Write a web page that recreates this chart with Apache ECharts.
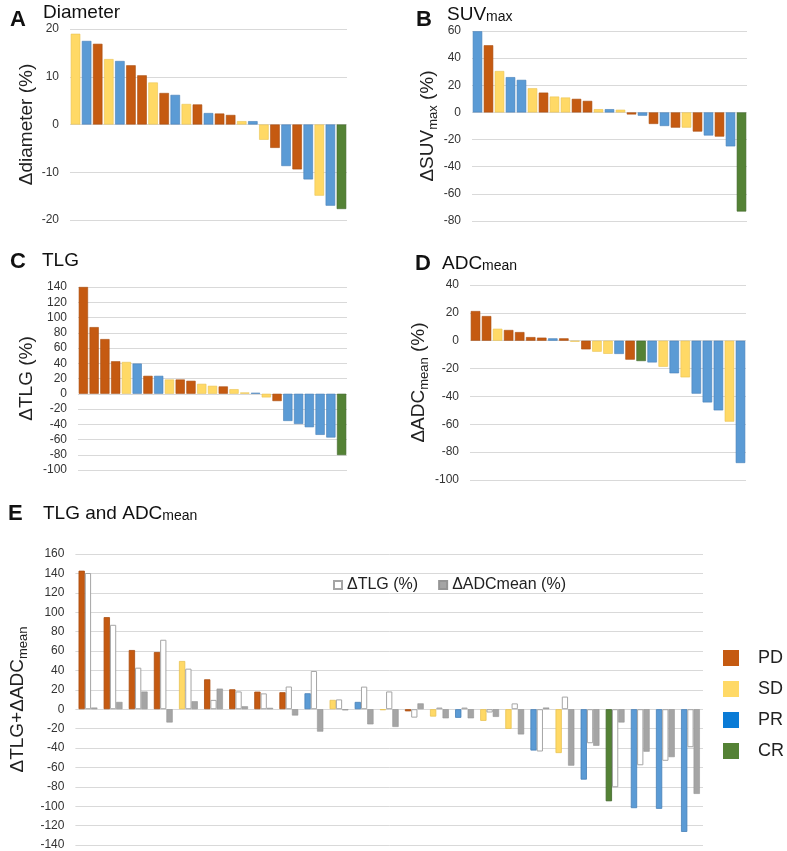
<!DOCTYPE html>
<html lang="en">
<head>
  <meta charset="UTF-8">
  <title>Response waterfall plots</title>
  <script src="https://cdn.jsdelivr.net/npm/echarts/dist/echarts.min.js"></script>
  <style>
    html, body { margin: 0; padding: 0; background: #fff; }
    #chart { width: 787px; height: 851px; }
  </style>
</head>
<body>
  <div id="chart"></div>
<script>
  // A: diameter change (%), sorted
  const diameterValues = [19.0, 17.5, 16.9, 13.7, 13.3, 12.4, 10.3, 8.8, 6.6, 6.2, 4.3, 4.2, 2.4, 2.3, 2.0, 0.7, 0.7, -3.2, -4.9, -8.7, -9.4, -11.5, -14.9, -17.0, -17.7];
  const diameterResp = ['SD','PR','PD','SD','PR','PD','PD','SD','PD','PR','SD','PD','PR','PD','PD','SD','PR','SD','PD','PR','PD','PR','SD','PR','CR'];

  // B: SUVmax change (%)
  const suvValues = [59.8, 49.5, 30.5, 26.0, 24.0, 17.8, 14.6, 11.7, 11.0, 10.0, 8.5, 2.4, 2.4, 2.0, -1.5, -2.4, -8.5, -10.0, -11.2, -11.2, -14.1, -17.0, -17.8, -25.0, -73.0];
  const suvResp = ['PR','PD','SD','PR','PR','SD','PD','SD','SD','PD','PD','SD','PR','SD','PD','PR','PD','PR','PD','SD','PD','PR','PD','PR','CR'];

  // C: TLG change (%)
  const tlgValues = [140.0, 87.4, 71.7, 42.6, 41.7, 39.6, 23.5, 23.5, 18.7, 18.7, 17.0, 13.0, 10.4, 9.6, 6.0, 1.7, 1.3, -4.8, -9.6, -35.7, -39.6, -43.9, -53.9, -57.4, -80.4];
  const tlgResp = ['PD','PD','PD','PD','SD','PR','PD','PR','SD','PD','PD','SD','SD','PD','SD','SD','PR','SD','PD','PR','PR','PR','PR','PR','CR'];

  // D: ADCmean change (%)
  const adcValues = [21.3, 17.7, 8.6, 7.7, 6.2, 2.6, 2.2, 1.7, 1.7, -0.7, -6.2, -7.9, -9.4, -9.5, -13.6, -14.6, -15.6, -18.7, -23.4, -26.3, -38.0, -44.3, -50.0, -58.1, -87.8];
  const adcResp = ['PD','PD','SD','PD','PD','PD','PD','PR','PD','SD','PD','SD','SD','PR','PD','CR','PR','SD','PR','SD','PR','PR','PR','SD','PR'];

  // E: TLG + ADCmean (sum), TLG and ADCmean per patient
  const eResp = ['PD','PD','PD','PD','SD','PD','PD','PD','PD','PR','SD','PR','SD','PD','SD','PR','SD','SD','PR','SD','PR','CR','PR','PR','PR'];
  const eSum = [142.8, 94.9, 61.0, 58.9, 49.7, 30.8, 20.5, 18.1, 17.5, 16.4, 9.6, 7.5, -1.0, -2.2, -7.6, -8.9, -12.0, -20.3, -42.6, -45.2, -72.6, -94.9, -102.0, -102.7, -126.5];
  const eTlg = [140.4, 87.0, 42.8, 71.6, 41.8, 9.6, 18.3, 16.3, 23.4, 39.4, 10.1, 23.3, 18.3, -8.7, 1.7, 1.7, -3.4, 6.0, -43.6, 13.0, -35.1, -80.5, -57.8, -53.2, -39.2];
  const eAdc = [1.7, 7.5, 18.2, -13.7, 8.2, 21.2, 3.0, 1.4, -6.5, -23.1, -1.2, -15.6, -18.3, 6.0, -9.4, -9.4, -7.9, -26.0, 1.7, -58.2, -37.7, -13.7, -43.8, -49.4, -87.3];

  const responses = ['PD', 'SD', 'PR', 'CR'];

  const COLORS = { PD: '#C55A11', SD: '#FFD966', PR: '#5B9BD5', CR: '#548235' };
  const BORDERS = { PD: '#A94D0F', SD: '#E9C352', PR: '#4680B8', CR: '#3E6428' };
  const FONT = 'Liberation Sans, Arial, sans-serif';
  const GRID_LINE = '#D9D9D9';

  const chart = echarts.init(document.getElementById('chart'));

  const grids = [
    { left: 70, top: 29, width: 277, height: 191 },
    { left: 472, top: 31, width: 275, height: 190 },
    { left: 78, top: 287, width: 269, height: 183 },
    { left: 470, top: 285, width: 276, height: 195 },
    { left: 60, top: 554, width: 643, height: 292 }
  ];

  const nameRich = {
    a: { fontSize: 19, color: '#222', lineHeight: 24, verticalAlign: 'middle' },
    s: { fontSize: 13, color: '#222', lineHeight: 13, verticalAlign: 'bottom' }
  };

  function xAx(idx, n) {
    return {
      type: 'category', gridIndex: idx,
      data: Array.from({ length: n }, (_, i) => 'P' + (i + 1)),
      axisLine: { show: false }, axisTick: { show: false }, axisLabel: { show: false }
    };
  }

  function yAx(idx, min, max, name, gap) {
    return {
      type: 'value', gridIndex: idx, min: min, max: max, interval: idx === 0 ? 10 : 20,
      name: name, nameLocation: 'middle', nameRotate: 90, nameGap: gap,
      nameTextStyle: { fontSize: 19, color: '#222', fontFamily: FONT, rich: nameRich },
      axisLine: { show: false }, axisTick: { show: false },
      axisLabel: { fontSize: 12, color: '#333', margin: 11, fontFamily: FONT },
      splitLine: { lineStyle: { color: GRID_LINE, width: 1 } }
    };
  }

  function panelBars(idx, values, resp) {
    return {
      type: 'bar', xAxisIndex: idx, yAxisIndex: idx, barCategoryGap: '14%', silent: true,
      data: values.map((v, i) => ({
        value: v,
        itemStyle: { color: COLORS[resp[i]], borderColor: BORDERS[resp[i]], borderWidth: 0.6 }
      }))
    };
  }

  const titleStyle = (size, bold) => ({ fontSize: size, fontWeight: bold ? 'bold' : 'normal', color: '#111', fontFamily: FONT });
  const titleRich = {
    a: { fontSize: 19, color: '#111', verticalAlign: 'bottom', lineHeight: 22 },
    s: { fontSize: 14, color: '#111', verticalAlign: 'bottom', lineHeight: 19 }
  };

  const series = [
    panelBars(0, diameterValues, diameterResp),
    panelBars(1, suvValues, suvResp),
    panelBars(2, tlgValues, tlgResp),
    panelBars(3, adcValues, adcResp)
  ];

  responses.forEach(r => {
    series.push({
      name: r, type: 'bar', stack: 'resp', xAxisIndex: 4, yAxisIndex: 4,
      barGap: '0%', barCategoryGap: '25%', silent: true,
      itemStyle: { color: COLORS[r], borderColor: BORDERS[r], borderWidth: 0.8 },
      data: eSum.map((v, i) => (eResp[i] === r ? v : null))
    });
  });
  series.push({
    name: 'ΔTLG (%)', type: 'bar', xAxisIndex: 4, yAxisIndex: 4,
    barGap: '0%', barCategoryGap: '25%', silent: true,
    itemStyle: { color: '#FFFFFF', borderColor: '#A5A5A5', borderWidth: 1 },
    data: eTlg
  });
  series.push({
    name: 'ΔADCmean (%)', type: 'bar', xAxisIndex: 4, yAxisIndex: 4,
    barGap: '0%', barCategoryGap: '25%', silent: true,
    itemStyle: { color: '#A5A5A5', borderColor: '#959595', borderWidth: 0.6 },
    data: eAdc
  });

  const option = {
    animation: false,
    textStyle: { fontFamily: FONT },
    title: [
      { text: 'A', left: 10, top: 9, padding: 0, textStyle: titleStyle(22, true) },
      { text: 'Diameter', left: 43, top: 3, padding: 0, textStyle: titleStyle(19, false) },
      { text: 'B', left: 416, top: 9, padding: 0, textStyle: titleStyle(22, true) },
      { text: '{a|SUV}{s|max}', left: 447, top: 2, padding: 0, textStyle: Object.assign(titleStyle(19, false), { rich: titleRich }) },
      { text: 'C', left: 10, top: 251, padding: 0, textStyle: titleStyle(22, true) },
      { text: 'TLG', left: 42, top: 251, padding: 0, textStyle: titleStyle(19, false) },
      { text: 'D', left: 415, top: 253, padding: 0, textStyle: titleStyle(22, true) },
      { text: '{a|ADC}{s|mean}', left: 442, top: 251, padding: 0, textStyle: Object.assign(titleStyle(19, false), { rich: titleRich }) },
      { text: 'E', left: 8, top: 503, padding: 0, textStyle: titleStyle(22, true) },
      { text: '{a|TLG and ADC}{s|mean}', left: 43, top: 501, padding: 0, textStyle: Object.assign(titleStyle(19, false), { rich: titleRich }) }
    ],
    legend: [
      {
        data: ['ΔTLG (%)', 'ΔADCmean (%)'], selectedMode: false,
        left: 333, top: 577, padding: 0, itemWidth: 8, itemHeight: 8, itemGap: 20, icon: 'rect',
        textStyle: { fontSize: 16, color: '#222', fontFamily: FONT }
      },
      {
        data: responses.map(r => ({
          name: r,
          itemStyle: { color: r === 'PR' ? '#0A7BD6' : COLORS[r], borderWidth: 0 }
        })),
        selectedMode: false, orient: 'vertical',
        left: 723, top: 649, padding: 0, itemWidth: 16, itemHeight: 16, itemGap: 13, icon: 'rect',
        textStyle: { fontSize: 18, color: '#222', lineHeight: 16, padding: [0, 0, 0, 14], fontFamily: FONT }
      }
    ],
    grid: grids,
    xAxis: [0, 1, 2, 3, 4].map(i => xAx(i, 25)),
    yAxis: [
      yAx(0, -20, 20, 'Δdiameter (%)', 34),
      yAx(1, -80, 60, '{a|ΔSUV}{s|max}{a| (%)}', 31),
      yAx(2, -100, 140, 'ΔTLG (%)', 42),
      yAx(3, -100, 40, '{a|ΔADC}{s|mean}{a| (%)}', 35),
      yAx(4, -140, 160, '{a|ΔTLG+ΔADC}{s|mean}', 40)
    ],
    series: series
  };

  chart.setOption(option);
</script>
</body>
</html>
